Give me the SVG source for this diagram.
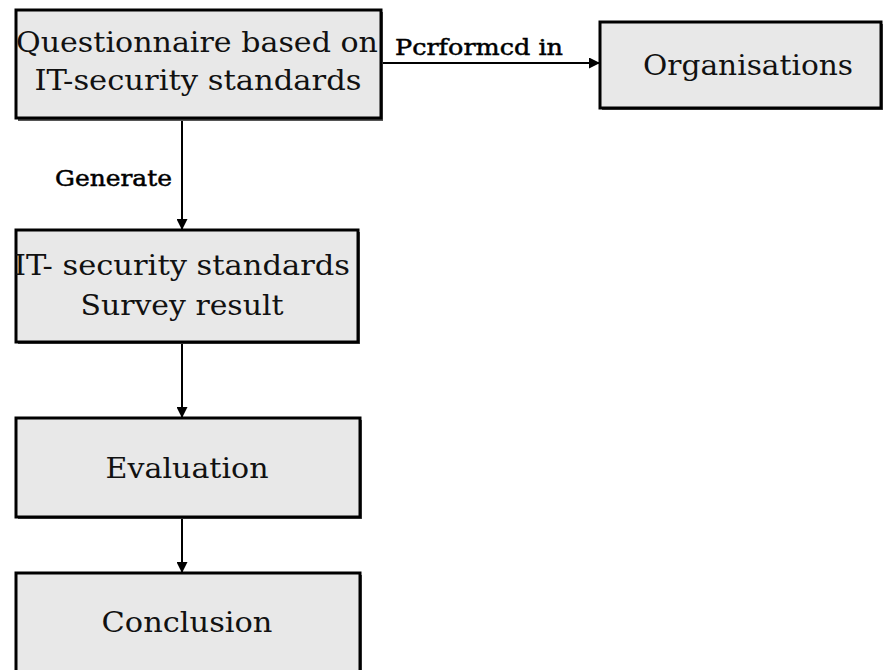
<svg xmlns="http://www.w3.org/2000/svg" width="883" height="670" viewBox="0 0 883 670">
  <style>
    .box { fill: #e8e8e8; stroke: #000; stroke-width: 3; }
    .shadow { fill: #555; }
    .t { font-family: "DejaVu Serif", "Liberation Serif", serif; font-size: 27px; fill: #111; text-anchor: middle; }
    .lbl { font-family: "DejaVu Serif", "Liberation Serif", serif; font-size: 23px; fill: #000; stroke: #000; stroke-width: 0.5; }
    .conn { stroke: #000; stroke-width: 2; fill: none; marker-end: url(#arrow); }
  </style>
  <defs>
    <marker id="arrow" viewBox="0 0 10 10" refX="10" refY="5" markerWidth="11" markerHeight="11" markerUnits="userSpaceOnUse" orient="auto">
      <path d="M0,0 L10,5 L0,10 z" fill="#000"/>
    </marker>
  </defs>
  <rect width="883" height="670" fill="#fff"/>

  <g id="connectors">
    <line class="conn" x1="381" y1="63" x2="600" y2="63"/>
    <line class="conn" x1="182" y1="119" x2="182" y2="230"/>
    <line class="conn" x1="182" y1="342" x2="182" y2="418"/>
    <line class="conn" x1="182" y1="517" x2="182" y2="573"/>
    <text class="lbl" x="395" y="55" textLength="168" lengthAdjust="spacingAndGlyphs">Pcrformcd in</text>
    <text class="lbl" x="55" y="186" textLength="117" lengthAdjust="spacingAndGlyphs">Generate</text>
  </g>

  <g id="questionnaire">
    <rect class="shadow" x="18" y="12" width="365" height="109"/>
    <rect class="box" x="16" y="10" width="365" height="108"/>
    <text class="t" x="197" y="52" textLength="362" lengthAdjust="spacingAndGlyphs">Questionnaire based on</text>
    <text class="t" x="198" y="90" textLength="327" lengthAdjust="spacingAndGlyphs">IT-security standards</text>
  </g>

  <g id="organisations">
    <rect class="shadow" x="602" y="24" width="283" height="86"/>
    <rect class="box" x="600" y="22" width="281" height="86"/>
    <text class="t" x="748" y="75" textLength="210" lengthAdjust="spacingAndGlyphs">Organisations</text>
  </g>

  <g id="survey-result">
    <rect class="shadow" x="18" y="232" width="342" height="112"/>
    <rect class="box" x="16" y="230" width="342" height="112"/>
    <text class="t" x="182" y="275" textLength="336" lengthAdjust="spacingAndGlyphs">IT- security standards</text>
    <text class="t" x="182" y="315" textLength="203" lengthAdjust="spacingAndGlyphs">Survey result</text>
  </g>

  <g id="evaluation">
    <rect class="shadow" x="18" y="420" width="344" height="99"/>
    <rect class="box" x="16" y="418" width="344" height="99"/>
    <text class="t" x="187" y="478" textLength="163" lengthAdjust="spacingAndGlyphs">Evaluation</text>
  </g>

  <g id="conclusion">
    <rect class="shadow" x="18" y="575" width="344" height="110"/>
    <rect class="box" x="16" y="573" width="344" height="110"/>
    <text class="t" x="187" y="632" textLength="171" lengthAdjust="spacingAndGlyphs">Conclusion</text>
  </g>
</svg>
